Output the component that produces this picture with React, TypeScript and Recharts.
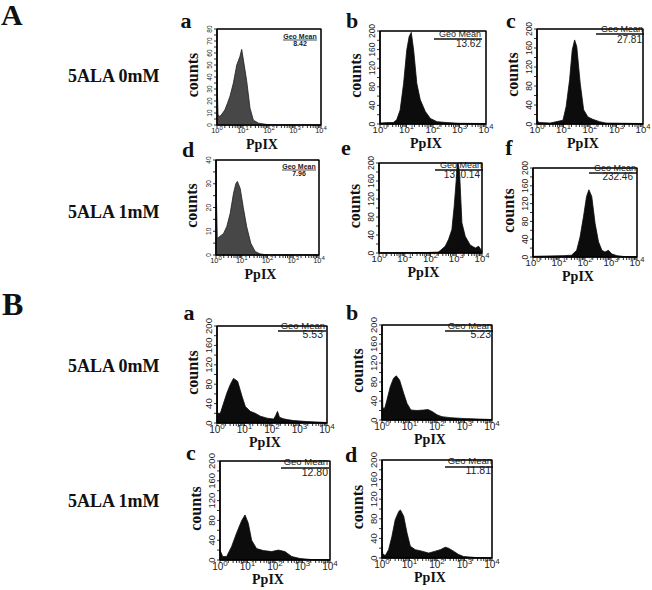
import React from "react";
import { AreaChart, Area, XAxis, YAxis, ReferenceArea } from "recharts";

// ---------- data (x = log10 PpIX fluorescence, c = counts) ----------
const decadeTicks = [0, 1, 2, 3, 4];
const decadeSup = ["0", "1", "2", "3", "4"];

const A_a_x = [0, 0.02, 0.04, 0.07, 0.15, 0.3, 0.4, 0.5, 0.63, 0.76, 0.88, 0.95, 1.01, 1.14, 1.27, 1.4, 1.6, 1.9, 2.2, 4];
const A_a_c = [42, 24, 9, 7, 8, 12.5, 18, 24, 35, 50, 57, 63, 55, 37, 14, 4, 1.5, 0.5, 0, 0];

const A_b_x = [0, 0.3, 0.5, 0.63, 0.76, 0.89, 1.01, 1.1, 1.18, 1.27, 1.39, 1.52, 1.71, 1.9, 2.15, 2.53, 3, 4];
const A_b_c = [2, 3, 3, 9, 30, 87, 159, 188, 197, 159, 87, 52, 27, 12, 5, 3, 1.5, 1];

const A_c_x = [0, 0.03, 0.08, 0.5, 0.98, 1.1, 1.23, 1.33, 1.42, 1.5, 1.63, 1.76, 1.92, 2.1, 2.36, 2.6, 4];
const A_c_c = [10, 6, 3, 2, 8, 37, 93, 156, 177, 163, 86, 30, 15, 10, 5, 2, 1];

const A_d_x = [0, 0.02, 0.05, 0.29, 0.42, 0.55, 0.68, 0.77, 0.83, 0.94, 1.06, 1.19, 1.35, 1.52, 1.7, 2, 4];
const A_d_c = [40, 23, 7, 9, 12, 17.5, 26, 30, 31, 28, 20, 12, 5, 1.5, 0.5, 0, 0];

const A_e_x = [0, 1.8, 2.3, 2.37, 2.57, 2.7, 2.83, 2.92, 3.0, 3.05, 3.13, 3.22, 3.35, 3.54, 3.74, 3.87, 4];
const A_e_c = [0, 1, 2, 5, 15, 30, 52, 104, 163, 210, 178, 67, 37, 18, 11, 15, 4];

const A_f_x = [0, 1.16, 1.48, 1.68, 1.81, 1.94, 2.06, 2.15, 2.26, 2.39, 2.52, 2.65, 2.77, 2.9, 3.03, 3.23, 3.5, 4];
const A_f_c = [1.5, 3, 4, 15, 45, 90, 136, 151, 136, 75, 34, 15, 11, 15, 7, 3, 1, 0.5];

const B_a_x = [0, 0.02, 0.12, 0.24, 0.36, 0.48, 0.6, 0.75, 0.91, 1.03, 1.21, 1.39, 1.58, 1.82, 2.06, 2.13, 2.2, 2.27, 2.4, 2.55, 2.79, 3.27, 4];
const B_a_c = [103, 20, 20, 41, 62, 79, 92, 86, 55, 34, 24, 20, 14, 10, 8, 15, 24, 12, 9, 7, 5, 3, 1];

const B_b_x = [0, 0.03, 0.1, 0.18, 0.3, 0.42, 0.52, 0.64, 0.79, 0.91, 1.05, 1.27, 1.52, 1.67, 1.82, 2.0, 2.18, 2.48, 3.0, 3.5, 4];
const B_b_c = [109, 25, 25, 42, 70, 88, 93, 84, 56, 35, 21, 20, 21, 22, 18, 11, 7, 5, 3, 2, 1];

const B_c_x = [0, 0.1, 0.24, 0.42, 0.6, 0.79, 0.91, 1.03, 1.15, 1.33, 1.58, 1.88, 2.12, 2.36, 2.61, 2.91, 3.3, 4];
const B_c_c = [20, 7, 7, 27, 54, 80, 91, 74, 40, 23, 19, 17, 20, 17, 7, 3, 1, 0.5];

const B_d_x = [0, 0.03, 0.12, 0.24, 0.36, 0.48, 0.61, 0.67, 0.79, 0.91, 1.03, 1.21, 1.45, 1.7, 1.94, 2.12, 2.3, 2.42, 2.6, 2.79, 2.97, 3.4, 4];
const B_d_c = [24, 8, 5, 17, 44, 78, 95, 98, 85, 51, 24, 17, 14, 10, 14, 17, 22, 20, 14, 7, 3, 1, 0.5];

const yTicks80 = [0, 10, 20, 30, 40, 50, 60, 70, 80];
const yTicks40 = [0, 10, 20, 30, 40];
const yTicks200 = [0, 40, 80, 120, 160, 200];

const geoTitle = "Geo Mean";
const rowLabels = ["5ALA 0mM", "5ALA 1mM"];
const sectionLabels = ["A", "B"];
const xLabel = "PpIX";
const yLabel = "counts";

// ---------- helpers ----------
const zip = (xs: number[], cs: number[]) => xs.map((x, i) => ({ x, c: cs[i] }));
const minorX: number[] = [];
for (let n = 0; n < 4; n++) for (let k = 2; k <= 9; k++) minorX.push(n + Math.log10(k));
const allX = [...decadeTicks, ...minorX].sort((a, b) => a - b);
const withMinor = (major: number[], step: number) => {
  const out: number[] = [];
  const max = major[major.length - 1];
  for (let v = 0; v <= max + 1e-9; v += step) out.push(Math.round(v * 100) / 100);
  return out;
};

const SERIF = "'Liberation Serif', 'Times New Roman', serif";
const SANS = "'Liberation Sans', Arial, sans-serif";

type Geo = {
  kind: "under" | "line";
  value: string;
  tb: number;
  lb: number;
  vb: number;
  inset: number;
  vinset: number;
  fs: number;
  vfs: number;
};

type PanelCfg = {
  L: number; T: number; W: number; H: number;
  data: { x: number; c: number }[];
  yMax: number; yMajor: number[]; yStep: number;
  fill: string; stroke: string;
  letter: string; lx: number; ly: number;
  geo: Geo;
  xfs: number; yfs: number; xdy: number;
};

const panels: PanelCfg[] = [
  { L: 217, T: 29, W: 104, H: 96, data: zip(A_a_x, A_a_c), yMax: 80, yMajor: yTicks80, yStep: 5, fill: "#474747", stroke: "#1e1e1e", letter: "a", lx: 186, ly: 28,
    geo: { kind: "under", value: "8.42", tb: 10, lb: 11, vb: 17, inset: 21, vinset: 21, fs: 7, vfs: 7 }, xfs: 7.5, yfs: 6.5, xdy: 5 },
  { L: 380, T: 31, W: 106, H: 93, data: zip(A_b_x, A_b_c), yMax: 200, yMajor: yTicks200, yStep: 20, fill: "#0c0c0c", stroke: "#0c0c0c", letter: "b", lx: 352, ly: 28,
    geo: { kind: "line", value: "13.62", tb: 6, lb: 8, vb: 16, inset: 5, vinset: 5, fs: 9, vfs: 10 }, xfs: 9.5, yfs: 8.5, xdy: 6 },
  { L: 537, T: 29, W: 106, H: 95, data: zip(A_c_x, A_c_c), yMax: 200, yMajor: yTicks200, yStep: 20, fill: "#0c0c0c", stroke: "#0c0c0c", letter: "c", lx: 511, ly: 28,
    geo: { kind: "line", value: "27.81", tb: 3, lb: 5, vb: 14, inset: 0, vinset: 1, fs: 9, vfs: 10 }, xfs: 9.5, yfs: 8.5, xdy: 6 },
  { L: 216, T: 160, W: 103, H: 95, data: zip(A_d_x, A_d_c), yMax: 40, yMajor: yTicks40, yStep: 5, fill: "#474747", stroke: "#1e1e1e", letter: "d", lx: 188, ly: 157,
    geo: { kind: "under", value: "7.96", tb: 9, lb: 10, vb: 16, inset: 20, vinset: 20, fs: 7, vfs: 7 }, xfs: 7.5, yfs: 6.5, xdy: 5 },
  { L: 379, T: 163, W: 103, H: 90, data: zip(A_e_x, A_e_c), yMax: 200, yMajor: yTicks200, yStep: 20, fill: "#0c0c0c", stroke: "#0c0c0c", letter: "e", lx: 346, ly: 155,
    geo: { kind: "line", value: "1310.14", tb: 5, lb: 7, vb: 15, inset: 0, vinset: 2, fs: 9, vfs: 10 }, xfs: 9.5, yfs: 8.5, xdy: 6 },
  { L: 533, T: 168, W: 104, H: 89, data: zip(A_f_x, A_f_c), yMax: 200, yMajor: yTicks200, yStep: 20, fill: "#0c0c0c", stroke: "#0c0c0c", letter: "f", lx: 509, ly: 155,
    geo: { kind: "line", value: "232.46", tb: 3, lb: 5, vb: 12, inset: 1, vinset: 4, fs: 9, vfs: 10 }, xfs: 9.5, yfs: 8.5, xdy: 6 },
  { L: 217, T: 326, W: 110, H: 97, data: zip(B_a_x, B_a_c), yMax: 200, yMajor: yTicks200, yStep: 20, fill: "#0c0c0c", stroke: "#0c0c0c", letter: "a", lx: 189, ly: 320,
    geo: { kind: "line", value: "5.53", tb: 3, lb: 5, vb: 12, inset: 2, vinset: 4, fs: 9.5, vfs: 10.5 }, xfs: 10, yfs: 9.5, xdy: 7 },
  { L: 382, T: 325, W: 110, H: 95, data: zip(B_b_x, B_b_c), yMax: 200, yMajor: yTicks200, yStep: 20, fill: "#0c0c0c", stroke: "#0c0c0c", letter: "b", lx: 352, ly: 320,
    geo: { kind: "line", value: "5.23", tb: 4, lb: 6, vb: 13, inset: 0, vinset: 1, fs: 9.5, vfs: 10.5 }, xfs: 10, yfs: 9.5, xdy: 7 },
  { L: 220, T: 461, W: 110, H: 99, data: zip(B_c_x, B_c_c), yMax: 200, yMajor: yTicks200, yStep: 20, fill: "#0c0c0c", stroke: "#0c0c0c", letter: "c", lx: 191, ly: 460,
    geo: { kind: "line", value: "12.80", tb: 4, lb: 7, vb: 15, inset: 2, vinset: 2, fs: 9.5, vfs: 10.5 }, xfs: 10, yfs: 9.5, xdy: 7 },
  { L: 382, T: 460, W: 110, H: 98, data: zip(B_d_x, B_d_c), yMax: 200, yMajor: yTicks200, yStep: 20, fill: "#0c0c0c", stroke: "#0c0c0c", letter: "d", lx: 351, ly: 462,
    geo: { kind: "line", value: "11.81", tb: 4, lb: 7, vb: 14, inset: 0, vinset: 1, fs: 9.5, vfs: 10.5 }, xfs: 10, yfs: 9.5, xdy: 7 },
];

const ML = 26; // y axis width
const MT = 10; // top margin
const MR = 10;
const XH = 22;

function PanelText({ p }: { p: PanelCfg }) {
  const R = p.L + p.W;
  const g = p.geo;
  return (
    <g>
      <rect x={p.L} y={p.T} width={p.W} height={p.H} fill="none" stroke="#000" strokeWidth={1.1} />
      <text x={p.lx} y={p.ly} fontFamily={SERIF} fontWeight="bold" fontSize={22} textAnchor="middle" fill="#111">{p.letter}</text>
      <text x={p.L - 25} y={p.T + p.H / 2 - 2} transform={`rotate(-90 ${p.L - 25} ${p.T + p.H / 2 - 2})`} fontFamily={SERIF} fontWeight="bold" fontSize={16} textAnchor="middle" dominantBaseline="central" fill="#111">{yLabel}</text>
      <text x={p.L + p.W / 2 - 7} y={p.T + p.H + 24} fontFamily={SERIF} fontWeight="bold" fontSize={14} textAnchor="middle" fill="#111">{xLabel}</text>
      {g.kind === "under" ? (
        <g fontFamily={SANS} fontWeight="bold" fill="#222">
          <text x={R - g.inset} y={p.T + g.tb} fontSize={g.fs} textAnchor="middle">{geoTitle}</text>
          <line x1={R - g.inset - 17} x2={R - g.inset + 17} y1={p.T + g.lb} y2={p.T + g.lb} stroke="#222" strokeWidth={0.8} />
          <text x={R - g.vinset} y={p.T + g.vb} fontSize={g.vfs} textAnchor="middle">{g.value}</text>
        </g>
      ) : (
        <g fontFamily={SANS} fill="#222">
          <text x={R - g.inset} y={p.T + g.tb} fontSize={g.fs} textAnchor="end">{geoTitle}</text>
          <line x1={R - g.inset - 47} x2={R - g.inset + 1} y1={p.T + g.lb} y2={p.T + g.lb} stroke="#111" strokeWidth={1.4} />
          <text x={R - g.vinset} y={p.T + g.vb} fontSize={g.vfs} textAnchor="end">{g.value}</text>
        </g>
      )}
    </g>
  );
}

function Panel({ p }: { p: PanelCfg }) {
  const yAll = withMinor(p.yMajor, p.yStep);
  const xTick = (props: any) => {
    const { x, y, payload } = props;
    const v = payload.value as number;
    const i = decadeTicks.findIndex((d) => Math.abs(d - v) < 1e-6);
    if (i < 0) return <g />;
    return (
      <text x={x} y={y + p.xdy} fontSize={p.xfs} fontFamily={SANS} fill="#222" textAnchor="middle">
        <tspan>10</tspan>
        <tspan dy={-p.xfs * 0.45} fontSize={p.xfs * 0.8}>{decadeSup[i]}</tspan>
      </text>
    );
  };
  const yTick = (props: any) => {
    const { x, y, payload } = props;
    const v = payload.value as number;
    if (!p.yMajor.includes(v)) return <g />;
    return (
      <text x={x} y={y} transform={`rotate(-90 ${x} ${y})`} fontSize={p.yfs} fontFamily={SANS} fill="#222" textAnchor="middle">
        {v}
      </text>
    );
  };
  return (
    <div style={{ position: "absolute", left: p.L - ML, top: p.T - MT }}>
      <AreaChart width={p.W + ML + MR} height={p.H + MT + XH} data={p.data} margin={{ top: MT, right: MR, left: 0, bottom: 0 }}>
        <XAxis type="number" dataKey="x" domain={[0, 4]} ticks={allX} interval={0} tickSize={3} tickMargin={0} height={XH}
          axisLine={{ stroke: "#000", strokeWidth: 1.2 }} tickLine={{ stroke: "#000", strokeWidth: 0.8 }} tick={xTick} allowDataOverflow />
        <YAxis type="number" domain={[0, p.yMax]} ticks={yAll} interval={0} width={ML} tickSize={3} tickMargin={2}
          axisLine={{ stroke: "#000", strokeWidth: 1.2 }} tickLine={{ stroke: "#000", strokeWidth: 0.8 }} tick={yTick} allowDataOverflow />
        <Area type="linear" dataKey="c" stroke={p.stroke} strokeWidth={0.8} fill={p.fill} fillOpacity={1} isAnimationActive={false} dot={false} activeDot={false} />
        <ReferenceArea x1={0} x2={4} y1={0} y2={p.yMax} fill="none" fillOpacity={0} stroke="#000" strokeWidth={1} ifOverflow="visible" />
      </AreaChart>
    </div>
  );
}

export default function App() {
  return (
    <div style={{ position: "absolute", left: 0, top: 0, width: 652, height: 590, background: "#fff", overflow: "hidden" }}>
      <svg width={652} height={590} style={{ position: "absolute", left: 0, top: 0 }}>
        <text x={1} y={25} fontFamily={SERIF} fontWeight="bold" fontSize={30} fill="#111">{sectionLabels[0]}</text>
        <text x={2} y={315} fontFamily={SERIF} fontWeight="bold" fontSize={32} fill="#111">{sectionLabels[1]}</text>
        <text x={68} y={82} fontFamily={SERIF} fontWeight="bold" fontSize={18} fill="#111">{rowLabels[0]}</text>
        <text x={68} y={218} fontFamily={SERIF} fontWeight="bold" fontSize={18} fill="#111">{rowLabels[1]}</text>
        <text x={68} y={372} fontFamily={SERIF} fontWeight="bold" fontSize={18} fill="#111">{rowLabels[0]}</text>
        <text x={68} y={507} fontFamily={SERIF} fontWeight="bold" fontSize={18} fill="#111">{rowLabels[1]}</text>
        {panels.map((p, i) => (
          <PanelText key={i} p={p} />
        ))}
      </svg>
      {panels.map((p, i) => (
        <Panel key={i} p={p} />
      ))}
    </div>
  );
}
